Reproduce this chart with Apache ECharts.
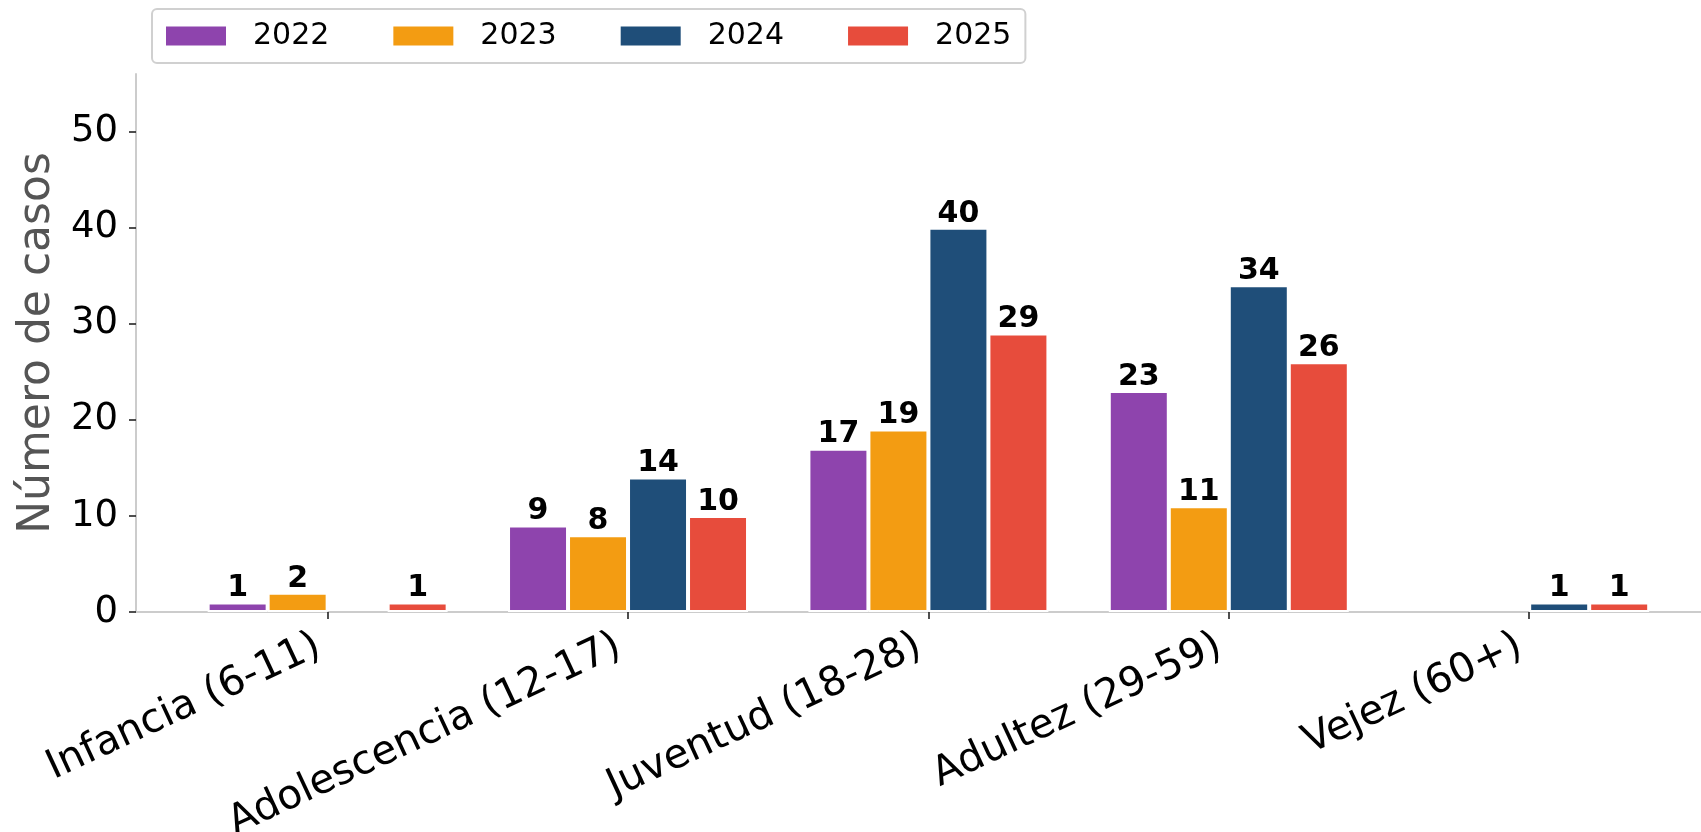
<!DOCTYPE html>
<html>
<head>
<meta charset="utf-8">
<script src="https://cdn.jsdelivr.net/npm/echarts@6/dist/echarts.min.js"></script>
<style>
html,body{margin:0;padding:0;background:#fff;}
#chart{width:1701px;height:832px;}
</style>
</head>
<body>
<div id="chart"></div>
<script>
const categories = ['Infancia (6-11)', 'Adolescencia (12-17)', 'Juventud (18-28)', 'Adultez (29-59)', 'Vejez (60+)'];
const years = ['2022', '2023', '2024', '2025'];
const values2022 = [1, 9, 17, 23, 0];
const values2023 = [2, 8, 19, 11, 0];
const values2024 = [0, 14, 40, 34, 1];
const values2025 = [1, 10, 29, 26, 1];
const yTicks = [0, 10, 20, 30, 40, 50];
const colors = ['#8E44AD', '#F39C12', '#1F4E79', '#E74C3C'];

const allValues = [values2022, values2023, values2024, values2025];
const FONT = 'DejaVu Sans';

const chart = echarts.init(document.getElementById('chart'), null, {renderer: 'canvas'});

const series = years.map((y, i) => ({
  name: y,
  type: 'bar',
  barWidth: 60,
  barGap: '0%',
  data: allValues[i].map((v, k) => [k, v === 0 ? null : v]),
  itemStyle: { color: colors[i], borderColor: '#ffffff', borderWidth: 2 },
  label: {
    show: true,
    position: 'top',
    distance: -1,
    fontFamily: FONT,
    fontWeight: 'bold',
    fontSize: 30,
    color: '#000',
    formatter: p => (p.value[1] ? String(p.value[1]) : '')
  }
}));

chart.setOption({
  animation: false,
  backgroundColor: '#ffffff',
  textStyle: { fontFamily: FONT },
  grid: { left: 136, right: 0, top: 74, bottom: 220, containLabel: false, outerBoundsMode: 'none' },
  legend: {
    data: years,
    left: 152,
    top: 9,
    orient: 'horizontal',
    icon: 'rect',
    itemWidth: 60,
    itemHeight: 19,
    itemGap: 64,
    padding: [12, 14, 12, 14],
    borderColor: '#d0d0d0',
    borderWidth: 2,
    borderRadius: 5,
    itemStyle: { borderWidth: 0 },
    textStyle: { fontFamily: FONT, fontSize: 30, color: '#000', padding: [0, 0, 0, 22], lineHeight: 30 }
  },
  xAxis: {
    type: 'value',
    min: -0.638,
    max: 4.572,
    splitLine: { show: false },
    axisLine: { show: true, onZero: false, lineStyle: { color: '#cccccc', width: 2 } },
    axisTick: { show: true, customValues: [0, 1, 2, 3, 4], length: 7, lineStyle: { color: '#222', width: 1.6 } },
    axisLabel: {
      customValues: [0, 1, 2, 3, 4],
      formatter: v => categories[Math.round(v)] || '',
      rotate: 25,
      margin: 28,
      padding: [0, 10, 0, 0],
      fontFamily: FONT,
      fontSize: 40.5,
      color: '#000'
    }
  },
  yAxis: {
    type: 'value',
    min: 0,
    max: 56,
    name: 'Número de casos',
    nameLocation: 'middle',
    nameGap: 74,
    nameTextStyle: { fontFamily: FONT, fontSize: 44, color: '#555555' },
    splitLine: { show: false },
    axisLine: { show: true, onZero: false, lineStyle: { color: '#cccccc', width: 2 } },
    axisTick: { show: true, customValues: yTicks, length: 7, lineStyle: { color: '#222', width: 1.6 } },
    axisLabel: {
      customValues: yTicks,
      margin: 18,
      fontFamily: FONT,
      fontSize: 37,
      color: '#000'
    }
  },
  series: series
});
</script>
</body>
</html>
